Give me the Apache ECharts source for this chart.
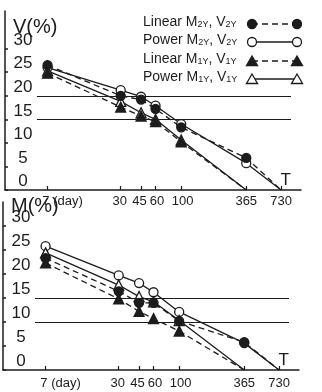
<!DOCTYPE html>
<html><head><meta charset="utf-8">
<script src="https://cdn.jsdelivr.net/npm/echarts@6/dist/echarts.min.js"></script>
<style>html,body{margin:0;padding:0;background:#fff}#c{width:322px;height:392px}</style>
</head><body><div id="c"></div>
<script>
const days = [7, 30, 45, 60, 100, 365, 730];
const yTicks = [0, 5, 10, 15, 20, 25, 30];
const names = ['Linear M2Y, V2Y', 'Power M2Y, V2Y', 'Linear M1Y, V1Y', 'Power M1Y, V1Y'];
// V panel (top)
const vLinear2Y = [26.5, 20.0, 19.2, 17.2, 13.3, 6.8, 0];
const vPower2Y  = [26.0, 21.2, 19.8, 17.9, 14.0, 5.7, 0];
const vLinear1Y = [24.8, 17.6, 15.7, 14.5, 10.2, 0];
const vPower1Y  = [25.3, 18.8, 16.4, 15.0, 10.6, 0];
// M panel (bottom)
const mLinear2Y = [23.3, 16.4, 14.0, 14.0, 10.2, 5.8, 0];
const mPower2Y  = [25.8, 19.7, 18.1, 16.2, 12.1, 5.6, 0];
const mLinear1Y = [22.3, 14.8, 12.2, 10.7, 8.1, 0];
const mPower1Y  = [24.4, 17.7, 15.3, 14.2, 10.3, 0];
const refV = [15, 20];
const refM = [10, 15];

const INK = '#1c1c1c';
const FONT = "'Liberation Sans',Arial,sans-serif";

function pts(vals){
  return vals.map((v,i)=> i===vals.length-1 ? {value:[days[i],v], symbol:'none'} : [days[i], v]);
}
const styles = [
  {symbol:'circle', fill:INK, dash:[6,4]},
  {symbol:'circle', fill:'#fff', dash:'solid'},
  {symbol:'triangle', fill:INK, dash:[6,4]},
  {symbol:'triangle', fill:'#fff', dash:'solid'}
];
function mk(idx, vals, gi, ref){
  const st = styles[idx];
  const s = {
    name: names[idx], type:'line', xAxisIndex:gi, yAxisIndex:gi,
    data: pts(vals), symbol: st.symbol, symbolSize: st.symbol==='triangle'?10:9,
    showAllSymbol:true,
    lineStyle:{color:INK, width:1.3, type:st.dash},
    itemStyle:{color:st.fill, borderColor:INK, borderWidth:1.3},
    z: idx===1||idx===3 ? 3 : 4
  };
  if (ref) {
    s.markLine = {symbol:'none', silent:true, label:{show:false},
      lineStyle:{color:INK, type:'solid', width:1},
      data: ref.map(v=>[{coord:[5.67, v]},{coord:[889, v]}])};
  }
  return s;
}
function legendName(n){
  const m = n.match(/^(\w+) M(\w+), V(\w+)$/);
  return '{n|'+m[1]+' M}{s|'+m[2]+'}{n|, V}{s|'+m[3]+'}';
}
function xLabel(v){
  if (v === 7) return '{sp|}7 (day)';
  if (v === 30) return '{l1|30}';
  if (v === 45) return '{l2|45}';
  if (v === 60) return '{r2|60}';
  if (v === 100) return '{r2|100}';
  return String(v);
}
function xAxis(gi, margin){
  const base = {fontSize:13, fontFamily:FONT, color:INK};
  return {type:'log', logBase:10, min:3, max:1085, gridIndex:gi,
    name:'T', nameLocation:'end', nameGap:-10, nameMoveOverlap:false,
    nameTextStyle:{color:INK, fontSize:17, fontFamily:FONT, align:'right', verticalAlign:'bottom', padding:[0,0,1,0]},
    axisLine:{lineStyle:{color:INK, width:1.5}},
    axisTick:{show:true, inside:true, length:4, customValues:days, lineStyle:{color:INK, width:1.2}},
    minorTick:{show:false}, splitLine:{show:false},
    axisLabel:{customValues:days, margin:margin, color:INK, fontSize:13, fontFamily:FONT,
      formatter:xLabel,
      rich:{sp:{width:30},
        l1:Object.assign({padding:[0,2,0,0]}, base),
        l2:Object.assign({padding:[0,3,0,0]}, base),
        r2:Object.assign({padding:[0,0,0,3]}, base)}}
  };
}
function yAxis(gi, max, nm, gap){
  return {type:'value', min:0, max:max, gridIndex:gi,
    name:nm, nameLocation:'end', nameGap:gap, nameMoveOverlap:false,
    nameTextStyle:{color:INK, fontSize:20, fontFamily:FONT, align:'left', verticalAlign:'bottom', padding:[0,0,0,8]},
    axisLine:{show:true, lineStyle:{color:INK, width:1.5}},
    axisTick:{show:true, inside:true, length:3, customValues:yTicks, lineStyle:{color:INK, width:1.5}},
    splitLine:{show:false},
    axisLabel:{inside:true, customValues:yTicks, margin:18, align:'center', verticalAlign:'bottom',
      color:INK, fontSize:17, fontFamily:FONT}
  };
}
// legend drawn as graphic rows (text, then marker - line - marker)
const legendRows = [24, 42, 61, 79];
const graphics = [];
names.forEach((n, i) => {
  const y = legendRows[i], st = styles[i];
  graphics.push({type:'text', left:143, top:y-9, z:10,
    style:{text:legendName(n), fill:INK,
      rich:{n:{fontSize:14, fontFamily:FONT, fill:INK}, s:{fontSize:9, fontFamily:FONT, fill:INK, verticalAlign:'bottom'}}}});
  graphics.push({type:'line', z:10, shape:{x1:252,y1:y,x2:297,y2:y},
    style:{stroke:INK, lineWidth:1.3, lineDash: st.dash==='solid'?null:[6,4]}});
  [252, 297].forEach(cx => {
    if (st.symbol==='circle') {
      graphics.push({type:'circle', z:11, shape:{cx:cx, cy:y, r:4.5}, style:{fill:st.fill, stroke:INK, lineWidth:1.3}});
    } else {
      graphics.push({type:'polygon', z:11, shape:{points:[[cx,y-5],[cx+5.5,y+4.5],[cx-5.5,y+4.5]]}, style:{fill:st.fill, stroke:INK, lineWidth:1.3}});
    }
  });
});
const chart = echarts.init(document.getElementById('c'), null, {renderer:'canvas'});
chart.setOption({
  backgroundColor:'#fff',
  animation:false,
  graphic: graphics,
  grid:[
    {left:5, width:296, top:11, height:179},
    {left:3, width:296, top:202, height:168}
  ],
  xAxis:[xAxis(0,5), xAxis(1,7)],
  yAxis:[yAxis(0,38,'V(%)',-26), yAxis(1,35,'M(%)',-14)],
  series:[
    mk(0, vLinear2Y, 0, refV), mk(1, vPower2Y, 0), mk(2, vLinear1Y, 0), mk(3, vPower1Y, 0),
    mk(0, mLinear2Y, 1, refM), mk(1, mPower2Y, 1), mk(2, mLinear1Y, 1), mk(3, mPower1Y, 1)
  ]
});
</script></body></html>
